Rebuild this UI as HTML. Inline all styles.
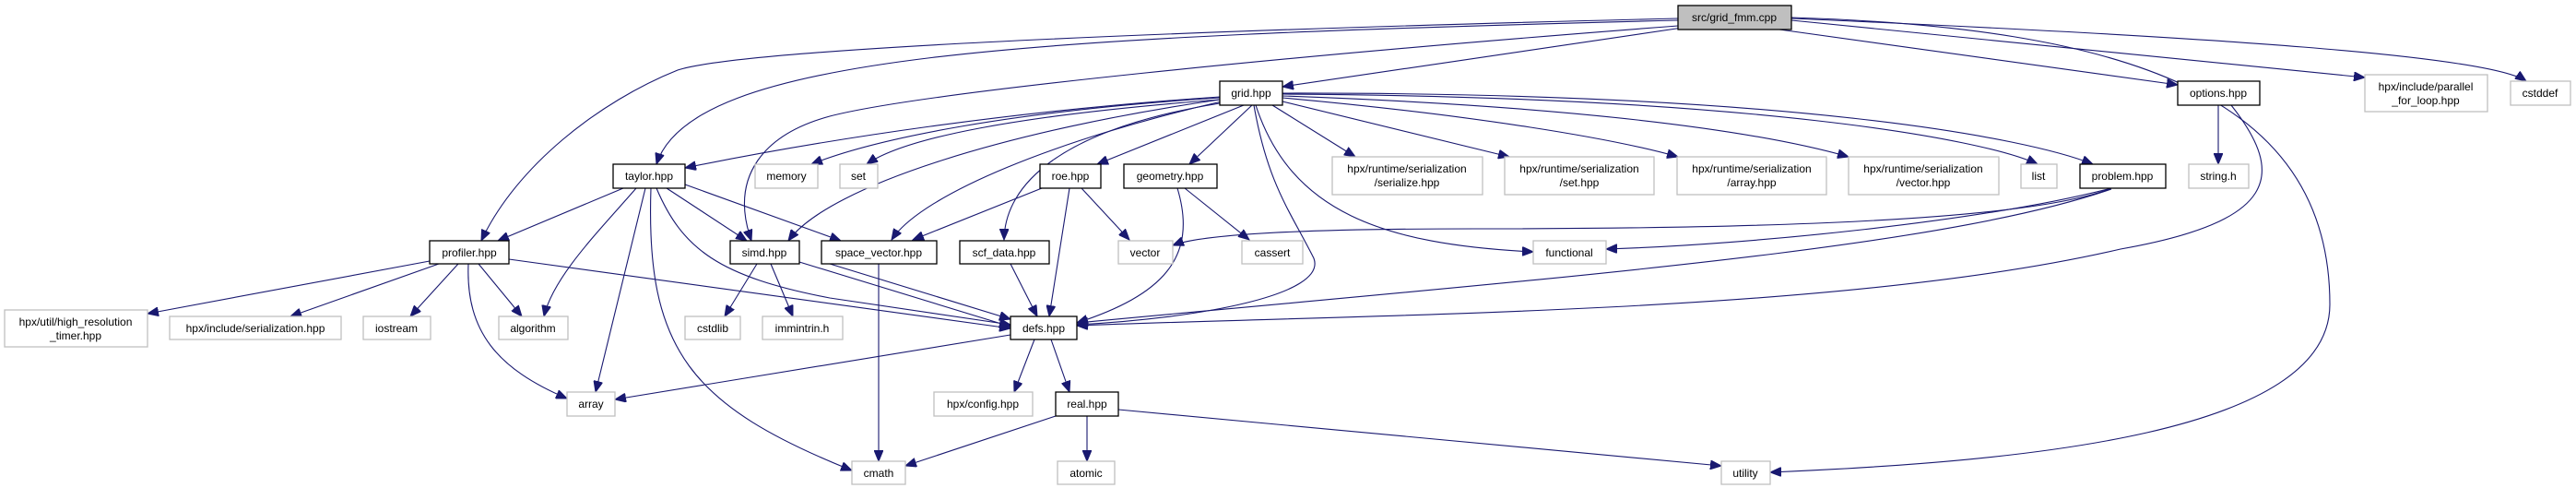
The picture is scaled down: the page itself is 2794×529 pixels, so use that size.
<!DOCTYPE html>
<html><head><meta charset="utf-8"><style>
html,body{margin:0;padding:0;background:#fff;}
svg{display:block;}
text{font-family:"Liberation Sans",sans-serif;font-size:12px;fill:#000;text-anchor:middle;}
.e{fill:none;stroke:#191970;stroke-width:1.1;marker-end:url(#a);}
.n{fill:#fff;stroke:#000;stroke-width:1.3;}
.x{fill:#fff;stroke:#bfbfbf;stroke-width:1.3;}
</style></head><body>
<svg width="2794" height="529" viewBox="0 0 2794 529" xmlns="http://www.w3.org/2000/svg">
<defs><marker id="a" markerUnits="userSpaceOnUse" markerWidth="13" markerHeight="10" refX="12" refY="5" orient="auto"><path d="M0,0 L12,5 L0,10 z" fill="#191970" stroke="#191970"/></marker></defs>

<path class="e" d="M1825 30 L1391 94"/>
<path class="e" d="M1930 32 L2362 92"/>
<path class="e" d="M1943 22 L2565 84"/>
<path class="e" d="M1943 20 C2400 40 2700 60 2740 88"/>
<path class="e" d="M1943 19 C2300 30 2527 100 2527 330 C2527 470 2200 500 1920 512"/>
<path class="e" d="M1820 22 C1100 40 750 60 712 178"/>
<path class="e" d="M1820 20 C1200 35 800 55 735 76 C650 110 560 180 522 261"/>
<path class="e" d="M1820 28 C1400 60 1000 100 900 126 C830 145 790 190 815 261"/>

<path class="e" d="M1323 105 C1100 120 900 150 743 182"/>
<path class="e" d="M1323 106 C1100 120 950 150 880 178"/>
<path class="e" d="M1323 108 C1100 125 980 150 940 178"/>
<path class="e" d="M1323 108 C1100 140 900 200 855 261"/>
<path class="e" d="M1325 110 C1150 150 1000 210 967 260"/>
<path class="e" d="M1323 112 C1150 140 1090 200 1089 260"/>
<path class="e" d="M1349 114 L1190 178"/>
<path class="e" d="M1358 114 L1290 178"/>
<path class="e" d="M1360 114 C1375 200 1400 230 1425 280 C1440 320 1300 345 1168 352"/>
<path class="e" d="M1362 114 C1400 230 1500 265 1663 273"/>
<path class="e" d="M1380 114 L1470 170"/>
<path class="e" d="M1391 110 L1637 170"/>
<path class="e" d="M1391 106 C1600 125 1750 150 1820 170"/>
<path class="e" d="M1391 104 C1700 115 1900 140 2005 170"/>
<path class="e" d="M1391 102 C1900 105 2150 150 2210 178"/>
<path class="e" d="M1391 101 C1950 100 2200 150 2270 178"/>

<path class="e" d="M676 204 L540 261"/>
<path class="e" d="M690 204 C650 250 600 300 590 343"/>
<path class="e" d="M700 204 L646 425"/>
<path class="e" d="M706 204 C700 380 750 440 924 510"/>
<path class="e" d="M723 204 L810 261"/>
<path class="e" d="M743 200 L912 261"/>
<path class="e" d="M712 204 C740 270 780 300 900 323 L1096 352"/>

<path class="e" d="M466 283 L160 340"/>
<path class="e" d="M476 286 L315 343"/>
<path class="e" d="M497 286 L445 343"/>
<path class="e" d="M519 286 L566 343"/>
<path class="e" d="M508 286 C505 360 540 400 615 432"/>
<path class="e" d="M552 281 L1096 356"/>

<path class="e" d="M821 286 L786 343"/>
<path class="e" d="M836 286 L860 343"/>
<path class="e" d="M867 284 L1096 354"/>

<path class="e" d="M953 286 L953 500"/>
<path class="e" d="M900 286 L1096 346"/>
<path class="e" d="M1130 204 L990 260"/>
<path class="e" d="M1160 204 L1138 343"/>
<path class="e" d="M1173 204 L1225 260"/>
<path class="e" d="M1277 204 C1300 280 1260 320 1168 350"/>
<path class="e" d="M1285 204 L1355 260"/>
<path class="e" d="M1096 286 L1125 343"/>

<path class="e" d="M2290 204 C2200 240 1900 248 1600 248 C1400 248 1300 255 1272 266"/>
<path class="e" d="M2290 204 C2150 240 1900 265 1742 270"/>
<path class="e" d="M2290 205 C2100 270 1700 300 1168 350"/>
<path class="e" d="M2420 114 C2480 190 2470 240 2300 270 C2000 340 1500 340 1168 353"/>
<path class="e" d="M2406 114 L2406 178"/>

<path class="e" d="M1096 363 L667 433"/>
<path class="e" d="M1122 368 L1100 425"/>
<path class="e" d="M1140 368 L1160 425"/>
<path class="e" d="M1145 451 L982 505"/>
<path class="e" d="M1179 451 L1179 500"/>
<path class="e" d="M1213 444 L1867 505"/>

<rect x="1820" y="6" width="123" height="26" fill="#bfbfbf" stroke="#000" stroke-width="1.3"/><text x="1881" y="23">src/grid_fmm.cpp</text>
<rect class="n" x="1323" y="88" width="68" height="26"/><text x="1357" y="105">grid.hpp</text>
<rect class="n" x="2362" y="88" width="89" height="26"/><text x="2406" y="105">options.hpp</text>
<rect class="x" x="2565" y="81" width="133" height="40"/><text x="2631" y="98">hpx/include/parallel</text><text x="2631" y="113">_for_loop.hpp</text>
<rect class="x" x="2723" y="88" width="65" height="26"/><text x="2755" y="105">cstddef</text>

<rect class="n" x="665" y="178" width="78" height="26"/><text x="704" y="195">taylor.hpp</text>
<rect class="x" x="819" y="178" width="68" height="26"/><text x="853" y="195">memory</text>
<rect class="x" x="911" y="178" width="41" height="26"/><text x="931" y="195">set</text>
<rect class="n" x="1128" y="178" width="66" height="26"/><text x="1161" y="195">roe.hpp</text>
<rect class="n" x="1219" y="178" width="101" height="26"/><text x="1269" y="195">geometry.hpp</text>
<rect class="x" x="1445" y="170" width="163" height="41"/><text x="1526" y="187">hpx/runtime/serialization</text><text x="1526" y="202">/serialize.hpp</text>
<rect class="x" x="1632" y="170" width="162" height="41"/><text x="1713" y="187">hpx/runtime/serialization</text><text x="1713" y="202">/set.hpp</text>
<rect class="x" x="1819" y="170" width="162" height="41"/><text x="1900" y="187">hpx/runtime/serialization</text><text x="1900" y="202">/array.hpp</text>
<rect class="x" x="2005" y="170" width="163" height="41"/><text x="2086" y="187">hpx/runtime/serialization</text><text x="2086" y="202">/vector.hpp</text>
<rect class="x" x="2192" y="178" width="39" height="26"/><text x="2211" y="195">list</text>
<rect class="n" x="2256" y="178" width="93" height="26"/><text x="2302" y="195">problem.hpp</text>
<rect class="x" x="2374" y="178" width="65" height="26"/><text x="2406" y="195">string.h</text>

<rect class="n" x="466" y="261" width="86" height="25"/><text x="509" y="278">profiler.hpp</text>
<rect class="n" x="792" y="261" width="75" height="25"/><text x="829" y="278">simd.hpp</text>
<rect class="n" x="891" y="261" width="125" height="25"/><text x="953" y="278">space_vector.hpp</text>
<rect class="n" x="1041" y="261" width="97" height="25"/><text x="1089" y="278">scf_data.hpp</text>
<rect class="x" x="1213" y="261" width="59" height="25"/><text x="1242" y="278">vector</text>
<rect class="x" x="1347" y="261" width="66" height="25"/><text x="1380" y="278">cassert</text>
<rect class="x" x="1663" y="261" width="79" height="25"/><text x="1702" y="278">functional</text>

<rect class="x" x="5" y="336" width="155" height="40"/><text x="82" y="353">hpx/util/high_resolution</text><text x="82" y="368">_timer.hpp</text>
<rect class="x" x="184" y="343" width="186" height="25"/><text x="277" y="360">hpx/include/serialization.hpp</text>
<rect class="x" x="394" y="343" width="73" height="25"/><text x="430" y="360">iostream</text>
<rect class="x" x="541" y="343" width="75" height="25"/><text x="578" y="360">algorithm</text>
<rect class="x" x="743" y="343" width="60" height="25"/><text x="773" y="360">cstdlib</text>
<rect class="x" x="827" y="343" width="87" height="25"/><text x="870" y="360">immintrin.h</text>
<rect class="n" x="1096" y="343" width="72" height="25"/><text x="1132" y="360">defs.hpp</text>

<rect class="x" x="615" y="425" width="52" height="26"/><text x="641" y="442">array</text>
<rect class="x" x="1013" y="425" width="107" height="26"/><text x="1066" y="442">hpx/config.hpp</text>
<rect class="n" x="1145" y="425" width="68" height="26"/><text x="1179" y="442">real.hpp</text>

<rect class="x" x="924" y="500" width="58" height="25"/><text x="953" y="517">cmath</text>
<rect class="x" x="1147" y="500" width="62" height="25"/><text x="1178" y="517">atomic</text>
<rect class="x" x="1867" y="500" width="53" height="25"/><text x="1893" y="517">utility</text>
</svg>
</body></html>
